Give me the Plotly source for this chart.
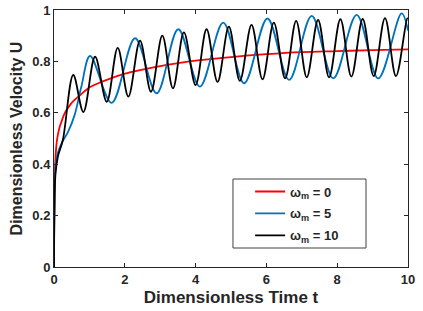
import plotly.graph_objects as go

# omega_m = 0 (red)
t_red = [0, 0.005, 0.015, 0.04, 0.08, 0.15, 0.21, 0.30, 0.45, 0.58, 0.75, 0.96, 1.25, 1.53,
         2.0, 2.5, 3.0, 3.5, 4.0, 5.0, 6.0, 7.0, 8.0, 9.0, 10.0]
u_red = [0, 0.15, 0.30, 0.42, 0.49, 0.54, 0.565, 0.598, 0.63, 0.65, 0.67, 0.695, 0.715, 0.73,
         0.752, 0.768, 0.782, 0.793, 0.803, 0.817, 0.828, 0.836, 0.840, 0.844, 0.847]

# omega_m = 5 (blue)
t_blue = [0, 0.01, 0.04, 0.10, 0.21, 0.40, 0.58, 0.77, 1.02, 1.63, 2.29, 2.90, 3.51, 4.12,
          4.78, 5.37, 6.03, 6.64, 7.28, 7.89, 8.55, 9.16, 9.82, 10.0]
u_blue = [0, 0.20, 0.38, 0.44, 0.48, 0.527, 0.59, 0.70, 0.821, 0.639, 0.89, 0.676, 0.925, 0.702,
          0.951, 0.715, 0.967, 0.728, 0.977, 0.734, 0.981, 0.734, 0.987, 0.92]

# omega_m = 10 (black)
t_black = [0, 0.01, 0.04, 0.11, 0.25, 0.545, 0.83, 1.16, 1.49, 1.80, 2.10, 2.43, 2.74, 3.06,
           3.36, 3.67, 4.00, 4.31, 4.62, 4.94, 5.25, 5.58, 5.89, 6.21, 6.53, 6.84, 7.14, 7.46,
           7.77, 8.09, 8.40, 8.72, 9.03, 9.35, 9.66, 9.98, 10.0]
u_black = [0, 0.20, 0.36, 0.43, 0.494, 0.747, 0.603, 0.818, 0.643, 0.853, 0.663, 0.881, 0.682, 0.90,
           0.695, 0.913, 0.708, 0.925, 0.72, 0.935, 0.724, 0.942, 0.73, 0.951, 0.734, 0.958, 0.738, 0.961,
           0.738, 0.964, 0.741, 0.965, 0.743, 0.968, 0.743, 0.967, 0.966]

names = ["ω<sub>m</sub> = 0", "ω<sub>m</sub> = 5", "ω<sub>m</sub> = 10"]
colors = ["#ff0000", "#0072bd", "#000000"]

x_ticks = [0, 2, 4, 6, 8, 10]
x_labels = ["0", "2", "4", "6", "8", "10"]
y_ticks = [0, 0.2, 0.4, 0.6, 0.8, 1]
y_labels = ["0", "0.2", "0.4", "0.6", "0.8", "1"]

font_main = "Liberation Sans, Arial, sans-serif"
ink = "#262626"

fig = go.Figure()
for i, (t, u) in enumerate([(t_red, u_red), (t_blue, u_blue), (t_black, u_black)]):
    fig.add_trace(go.Scatter(x=t, y=u, mode="lines", name="<b>" + names[i] + "</b>",
                             legendgroup="g%d" % i,
                             line=dict(color=colors[i], width=1.8, shape="spline", smoothing=1.0)))

axis_common = dict(showline=True, linecolor=ink, linewidth=1, mirror="ticks",
                   ticks="inside", ticklen=4, tickcolor=ink, showgrid=False, zeroline=False,
                   automargin=False,
                   tickfont=dict(family=font_main, size=13, color=ink))

fig.update_layout(
    width=423, height=311,
    margin=dict(l=54, r=15, t=10, b=44, autoexpand=False),
    paper_bgcolor="white", plot_bgcolor="white",
    font=dict(family=font_main, color=ink),
    xaxis=dict(range=[0, 10], tickmode="array", tickvals=x_ticks,
               ticktext=["<b>%s</b>" % s for s in x_labels],
               title=dict(text="<b>Dimensionless Time t</b>", font=dict(size=17), standoff=5),
               **axis_common),
    yaxis=dict(range=[0, 1], tickmode="array", tickvals=y_ticks,
               ticktext=["<b>%s</b>" % s for s in y_labels],
               title=dict(text="<b>Dimensionless Velocity U</b>", font=dict(size=16), standoff=5),
               **axis_common),
    legend=dict(x=0.554, y=0.352, xanchor="left", yanchor="top",
                bgcolor="rgba(0,0,0,0)", borderwidth=0,
                font=dict(family=font_main, size=13, color=ink),
                tracegroupgap=2, itemwidth=30),
    shapes=[dict(type="rect", xref="paper", yref="paper",
                 x0=0.5056, x1=0.8814, y0=0.0739, y1=0.3424,
                 line=dict(color="#404040", width=1), fillcolor="white", layer="above")],
    showlegend=True,
)

fig.write_html("out.html", config={"displayModeBar": False},
               post_script="document.body.style.margin='0';document.body.style.padding='0';")
